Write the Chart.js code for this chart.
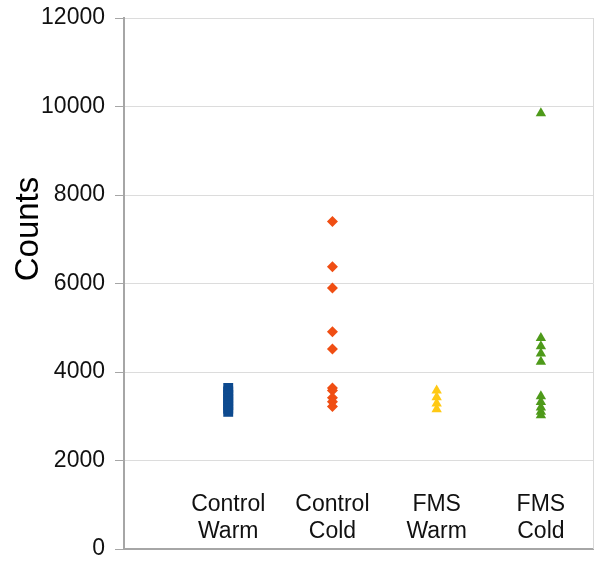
<!DOCTYPE html>
<html>
<head>
<meta charset="utf-8">
<script src="https://cdn.jsdelivr.net/npm/chart.js@4.4.1/dist/chart.umd.min.js"></script>
<style>
  html, body { margin: 0; padding: 0; background: #fff; }
  #wrap { width: 600px; height: 567px; }
</style>
</head>
<body>
<div id="wrap"><canvas id="grafico"></canvas></div>
<script>
// categorias y valores
const categorias = [['Control', 'Warm'], ['Control', 'Cold'], ['FMS', 'Warm'], ['FMS', 'Cold']];
const posiciones = [1, 2, 3, 4];

const controlWarm = [3640, 3560, 3480, 3400, 3330, 3250, 3170, 3100];
const controlCold = [7400, 6380, 5900, 4910, 4520, 3640, 3580, 3420, 3330, 3220];
const fmsWarm = [3580, 3430, 3290, 3160];
const fmsCold = [9850, 4770, 4580, 4420, 4230, 3450, 3320, 3200, 3100, 3020];

const yTicks = [0, 2000, 4000, 6000, 8000, 10000, 12000];
const tituloY = 'Counts';

const FUENTE = '"Liberation Sans", Arial, sans-serif';

function puntos(x, valores) {
    return valores.map(v => ({ x: x, y: v }));
}

// etiquetas de categoria dentro del area, titulo del eje y borde derecho
const etiquetasPlugin = {
    id: 'etiquetas',
    afterDraw(chart) {
        const ctx = chart.ctx;
        const xs = chart.scales.x;
        const area = chart.chartArea;
        ctx.save();
        ctx.strokeStyle = '#d9d9d9';
        ctx.lineWidth = 1;
        ctx.beginPath();
        ctx.moveTo(area.right + 0.5, area.top);
        ctx.lineTo(area.right + 0.5, area.bottom);
        ctx.stroke();

        ctx.fillStyle = '#111';
        ctx.font = '23px ' + FUENTE;
        ctx.textAlign = 'center';
        ctx.textBaseline = 'middle';
        categorias.forEach((lineas, i) => {
            const px = xs.getPixelForValue(posiciones[i]);
            ctx.fillText(lineas[0], px, area.bottom - 44);
            ctx.fillText(lineas[1], px, area.bottom - 17);
        });

        // titulo del eje y (mas arriba que el centro, como en el original)
        ctx.translate(29, 229);
        ctx.rotate(-Math.PI / 2);
        ctx.fillStyle = '#000';
        ctx.font = '33px ' + FUENTE;
        ctx.fillText(tituloY, 0, 0);
        ctx.restore();
    }
};

new Chart(document.getElementById('grafico'), {
    type: 'scatter',
    data: {
        datasets: [
            {
                label: 'Control Warm',
                data: puntos(posiciones[0], controlWarm),
                pointStyle: 'rect',
                pointRadius: 7,
                backgroundColor: '#0d4a8f',
                borderColor: '#0d4a8f',
                borderWidth: 0
            },
            {
                label: 'Control Cold',
                data: puntos(posiciones[1], controlCold),
                pointStyle: 'rectRot',
                pointRadius: 5.5,
                backgroundColor: '#f04e13',
                borderColor: '#f04e13',
                borderWidth: 0
            },
            {
                label: 'FMS Warm',
                data: puntos(posiciones[2], fmsWarm),
                pointStyle: 'triangle',
                pointRadius: 6,
                backgroundColor: '#ffc914',
                borderColor: '#ffc914',
                borderWidth: 0
            },
            {
                label: 'FMS Cold',
                data: puntos(posiciones[3], fmsCold),
                pointStyle: 'triangle',
                pointRadius: 6,
                backgroundColor: '#4e9a1a',
                borderColor: '#4e9a1a',
                borderWidth: 0
            }
        ]
    },
    options: {
        responsive: true,
        maintainAspectRatio: false,
        animation: false,
        layout: { padding: { top: 18, right: 7, bottom: 18, left: 0 } },
        plugins: {
            legend: { display: false },
            tooltip: { enabled: false }
        },
        scales: {
            x: {
                type: 'linear',
                min: 0,
                max: 4.5,
                ticks: { display: false },
                grid: { display: false, drawTicks: false },
                border: { display: true, color: '#a6a6a6', width: 2 },
                afterFit(scale) { scale.height = 0; }
            },
            y: {
                min: 0,
                max: 12000,
                afterBuildTicks(scale) { scale.ticks = yTicks.map(v => ({ value: v })); },
                ticks: {
                    color: '#111',
                    padding: 10,
                    callback: v => String(v),
                    font: { family: FUENTE, size: 23 }
                },
                grid: { color: '#dcdcdc', tickColor: '#a6a6a6', tickLength: 9, lineWidth: 1 },
                border: { display: true, color: '#a6a6a6', width: 2 },
                title: { display: false },
                afterFit(scale) {
                    scale.width = 124;
                    scale.paddingTop = 0;
                    scale.paddingBottom = 0;
                }
            }
        }
    },
    plugins: [etiquetasPlugin]
});
</script>
</body>
</html>
